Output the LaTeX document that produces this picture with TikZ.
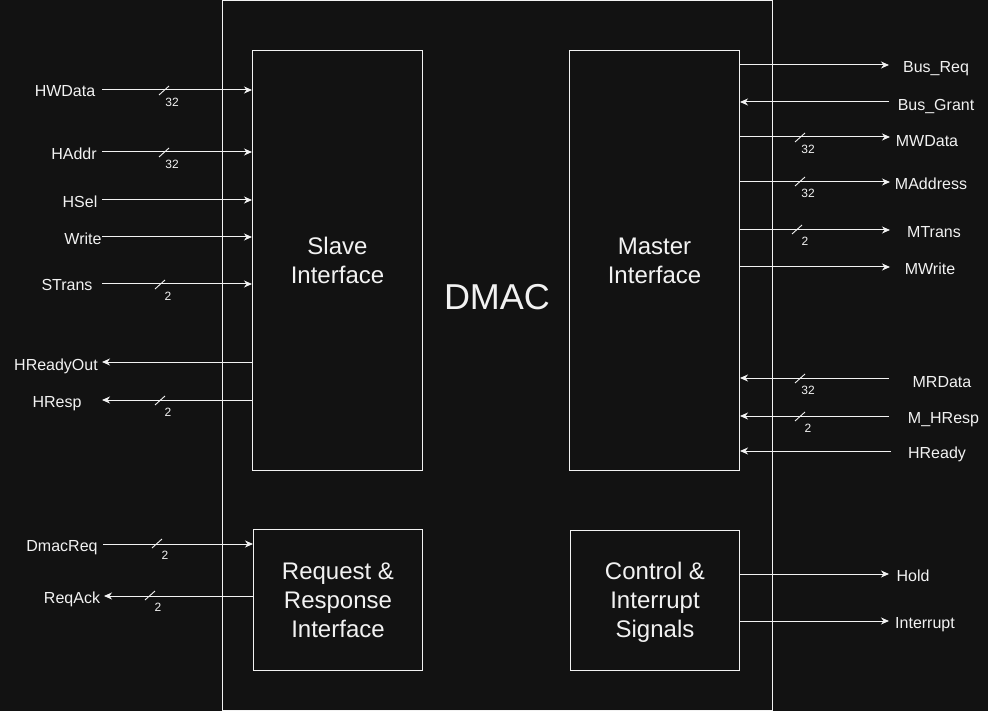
\documentclass[tikz,border=0pt]{standalone}
\usepackage{fontspec}
\setmainfont{Liberation Sans}
\usetikzlibrary{arrows.meta}
\definecolor{bg}{HTML}{121212}
\definecolor{fg}{HTML}{F2F2F2}
\newcommand{\busmk}[4]{% x y labelx-offset text
  \draw[mk] (#1-5,#2+4.5) -- (#1+5,#2-4.5);
  \node[num] at (#1+#3,#2+12) {#4};}
\begin{document}
\begin{tikzpicture}[x=1pt,y=-1pt,
  sig/.style={draw=fg, line width=1pt, -{Stealth[length=8pt,width=7pt,inset=2.5pt]}},
  mk/.style={draw=fg, line width=0.9pt},
  lbl/.style={text=fg, font=\fontsize{16}{19}\selectfont, inner sep=0pt, text height=11.5pt, text depth=0pt, yshift=-1pt},
  num/.style={text=fg, font=\fontsize{12}{14}\selectfont, inner sep=0pt, text height=8.6pt, text depth=0pt},
  blk/.style={draw=fg, line width=1pt, text=fg, align=center, font=\fontsize{24}{29}\selectfont, inner sep=0pt},
  blktxt/.style={text=fg, align=center, font=\fontsize{24}{29}\selectfont, inner sep=0pt}
]
\useasboundingbox[fill=bg] (0,0) rectangle (988,711);
% outer DMAC box
\node[blk, minimum width=550pt, minimum height=710pt] (dmac) at (497.5,355.5) {};
\node[text=fg, font=\fontsize{36}{43}\selectfont, inner sep=0pt, text height=25.8pt, text depth=0pt] (title) at (497,297) {DMAC};
% inner blocks
\node[blk, minimum width=170pt, minimum height=420pt] (slave) at (337.5,260.5) {Slave\\Interface};
\node[blk, minimum width=170pt, minimum height=420pt] (master) at (654.5,260.5) {Master\\Interface};
\node[blk, minimum width=169pt, minimum height=141pt] (req) at (338,600) {Request \&\\Response\\Interface};
\node[blk, minimum width=169pt, minimum height=140pt] (ctrl) at (655,600.5) {};
\node[blktxt] (ctrltxt) at (655,602.5) {Control \&\\Interrupt\\Signals};

% ---------- left side labels ----------
\node[lbl] (lHWData) at (65,90) {HWData};
\node[lbl] (lHAddr) at (74,153) {HAddr};
\node[lbl] (lHSel) at (80,201) {HSel};
\node[lbl] (lWrite) at (83,238) {Write};
\node[lbl] (lSTrans) at (67,284) {STrans};
\node[lbl] (lHReadyOut) at (56,364) {HReadyOut};
\node[lbl] (lHResp) at (57,401) {HResp};
\node[lbl] (lDmacReq) at (62,545) {DmacReq};
\node[lbl] (lReqAck) at (72,597) {ReqAck};

\coordinate (cHWData) at (102,90);
\coordinate (cHAddr) at (102,152);
\coordinate (cHSel) at (102,200);
\coordinate (cWrite) at (102,237);
\coordinate (cSTrans) at (102,284);
\coordinate (cHReadyOut) at (102,362);
\coordinate (cHResp) at (102,400);
\coordinate (cDmacReq) at (103,544);
\coordinate (cReqAck) at (104,596);

\draw[sig] (cHWData) -- (cHWData -| slave.west);
\draw[sig] (cHAddr) -- (cHAddr -| slave.west);
\draw[sig] (cHSel) -- (cHSel -| slave.west);
\draw[sig] (cWrite) -- (cWrite -| slave.west);
\draw[sig] (cSTrans) -- (cSTrans -| slave.west);
\draw[sig] (cHReadyOut -| slave.west) -- (cHReadyOut);
\draw[sig] (cHResp -| slave.west) -- (cHResp);
\draw[sig] (cDmacReq) -- (cDmacReq -| req.west);
\draw[sig] (cReqAck -| req.west) -- (cReqAck);

\busmk{164}{90.5}{8}{32}
\busmk{164}{152.5}{8}{32}
\busmk{160}{284.5}{8}{2}
\busmk{160}{400.5}{8}{2}
\busmk{157}{543.5}{8}{2}
\busmk{150}{595.5}{8}{2}

% ---------- right side labels ----------
\node[lbl] (rBusReq) at (936,66) {Bus\_Req};
\node[lbl] (rBusGrant) at (936,104) {Bus\_Grant};
\node[lbl] (rMWData) at (927,140) {MWData};
\node[lbl] (rMAddress) at (931,183) {MAddress};
\node[lbl] (rMTrans) at (934,231) {MTrans};
\node[lbl] (rMWrite) at (930,268) {MWrite};
\node[lbl] (rMRData) at (942,381) {MRData};
\node[lbl] (rMHResp) at (943.5,417) {M\_HResp};
\node[lbl] (rHReady) at (937,452) {HReady};
\node[lbl] (rHold) at (913,575) {Hold};
\node[lbl] (rInterrupt) at (925,622) {Interrupt};

\coordinate (cBusReq) at (889,65);
\coordinate (cBusGrant) at (889,102);
\coordinate (cMWData) at (890,137);
\coordinate (cMAddress) at (890,182);
\coordinate (cMTrans) at (890,230);
\coordinate (cMWrite) at (890,267);
\coordinate (cMRData) at (889,378);
\coordinate (cMHResp) at (889,416);
\coordinate (cHReady) at (891,451);
\coordinate (cHold) at (889,574);
\coordinate (cInterrupt) at (889,621);

\draw[sig] (cBusReq -| master.east) -- (cBusReq);
\draw[sig] (cBusGrant) -- (cBusGrant -| master.east);
\draw[sig] (cMWData -| master.east) -- (cMWData);
\draw[sig] (cMAddress -| master.east) -- (cMAddress);
\draw[sig] (cMTrans -| master.east) -- (cMTrans);
\draw[sig] (cMWrite -| master.east) -- (cMWrite);
\draw[sig] (cMRData) -- (cMRData -| master.east);
\draw[sig] (cMHResp) -- (cMHResp -| master.east);
\draw[sig] (cHReady) -- (cHReady -| master.east);
\draw[sig] (cHold -| ctrl.east) -- (cHold);
\draw[sig] (cInterrupt -| ctrl.east) -- (cInterrupt);

\busmk{800}{137.5}{8}{32}
\busmk{800}{181.5}{8}{32}
\busmk{797}{229.5}{8}{2}
\busmk{800}{378.5}{8}{32}
\busmk{800}{416.5}{8}{2}
\end{tikzpicture}
\end{document}
